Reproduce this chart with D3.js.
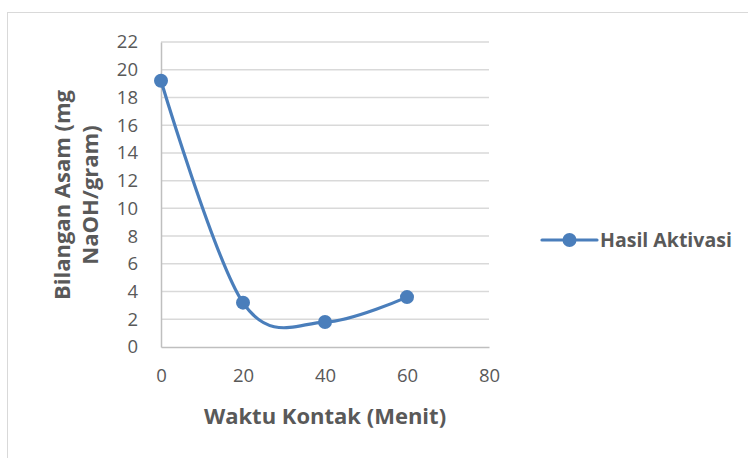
<!DOCTYPE html>
<html><head><meta charset="utf-8">
<script src="https://cdn.jsdelivr.net/npm/d3@7/dist/d3.min.js"></script>
<style>body{margin:0;background:#fff}svg{display:block}</style>
</head><body>
<svg id="c" width="748" height="458"></svg>
<script>
const xValues = [0, 20, 40, 60];
const yValues = [19.2, 3.2, 1.8, 3.6];
const seriesName = "Hasil Aktivasi";
const xTicks = [0, 20, 40, 60, 80];
const yTicks = [0, 2, 4, 6, 8, 10, 12, 14, 16, 18, 20, 22];
const xTitle = "Waktu Kontak (Menit)";
const yTitleLines = ["Bilangan Asam (mg", "NaOH/gram)"];

const svg = d3.select("#c");
const color = "#4a7ebb";
const textColor = "#595959";
const tickFont = "'Open Sans', sans-serif";
const boldFont = "'Open Sans', sans-serif";

svg.append("rect").attr("x", 7.5).attr("y", 12.5).attr("width", 800).attr("height", 500)
  .attr("fill", "#fff").attr("stroke", "#d9d9d9").attr("stroke-width", 1);

const x = d3.scaleLinear().domain([0, 80]).range([161, 489]);
const y = d3.scaleLinear().domain([0, 22]).range([347, 42]);

// gridlines
svg.append("g").selectAll("line").data(yTicks.filter(d => d > 0)).join("line")
  .attr("x1", x(0)).attr("x2", x(80)).attr("y1", d => y(d)).attr("y2", d => y(d))
  .attr("stroke", "#d9d9d9").attr("stroke-width", 1.5);

// axes
const yAxis = d3.axisLeft(y).tickValues(yTicks).tickSize(0).tickPadding(23);
const gy = svg.append("g").attr("transform", `translate(${x(0)},0)`).call(yAxis);
gy.select(".domain").attr("stroke", "#bfbfbf").attr("stroke-width", 1.5);
gy.selectAll("text").attr("fill", textColor).style("font-family", tickFont).style("font-size", "18.5px");

const xAxis = d3.axisBottom(x).tickValues(xTicks).tickSize(0).tickPadding(22);
const gx = svg.append("g").attr("transform", `translate(0,${y(0)})`).call(xAxis);
gx.select(".domain").attr("stroke", "#bfbfbf").attr("stroke-width", 1.5);
gx.selectAll("text").attr("fill", textColor).style("font-family", tickFont).style("font-size", "18.5px");

// line
const pts = xValues.map((v, i) => [v, yValues[i]]);
const line = d3.line().x(d => x(d[0])).y(d => y(d[1])).curve(d3.curveCardinal.tension(0));
svg.append("path").datum(pts).attr("d", line).attr("fill", "none")
  .attr("stroke", color).attr("stroke-width", 3.2).attr("stroke-linecap", "round");
svg.append("g").selectAll("circle").data(pts).join("circle")
  .attr("cx", d => x(d[0])).attr("cy", d => y(d[1])).attr("r", 7).attr("fill", color);

// titles
svg.append("text").attr("x", 325).attr("y", 424).attr("text-anchor", "middle")
  .attr("fill", textColor).style("font-family", boldFont).style("font-weight", "bold")
  .style("font-size", "22px").text(xTitle);

const yt = svg.append("text").attr("transform", "translate(0,195) rotate(-90)")
  .attr("text-anchor", "middle").attr("fill", textColor).style("font-family", boldFont)
  .style("font-weight", "bold").style("font-size", "22px");
yTitleLines.forEach((t, i) => yt.append("tspan").attr("x", 0).attr("y", 70 + i * 28).text(t));

// legend
const lg = svg.append("g").attr("transform", "translate(542,240)");
lg.append("line").attr("x1", 0).attr("x2", 55).attr("stroke", color).attr("stroke-width", 3.2).attr("stroke-linecap", "round");
lg.append("circle").attr("cx", 27.5).attr("r", 7).attr("fill", color);
lg.append("text").attr("x", 58).attr("y", 7).attr("fill", textColor).style("font-family", boldFont)
  .style("font-weight", "bold").style("font-size", "19.5px").text(seriesName);
</script>
</body></html>
